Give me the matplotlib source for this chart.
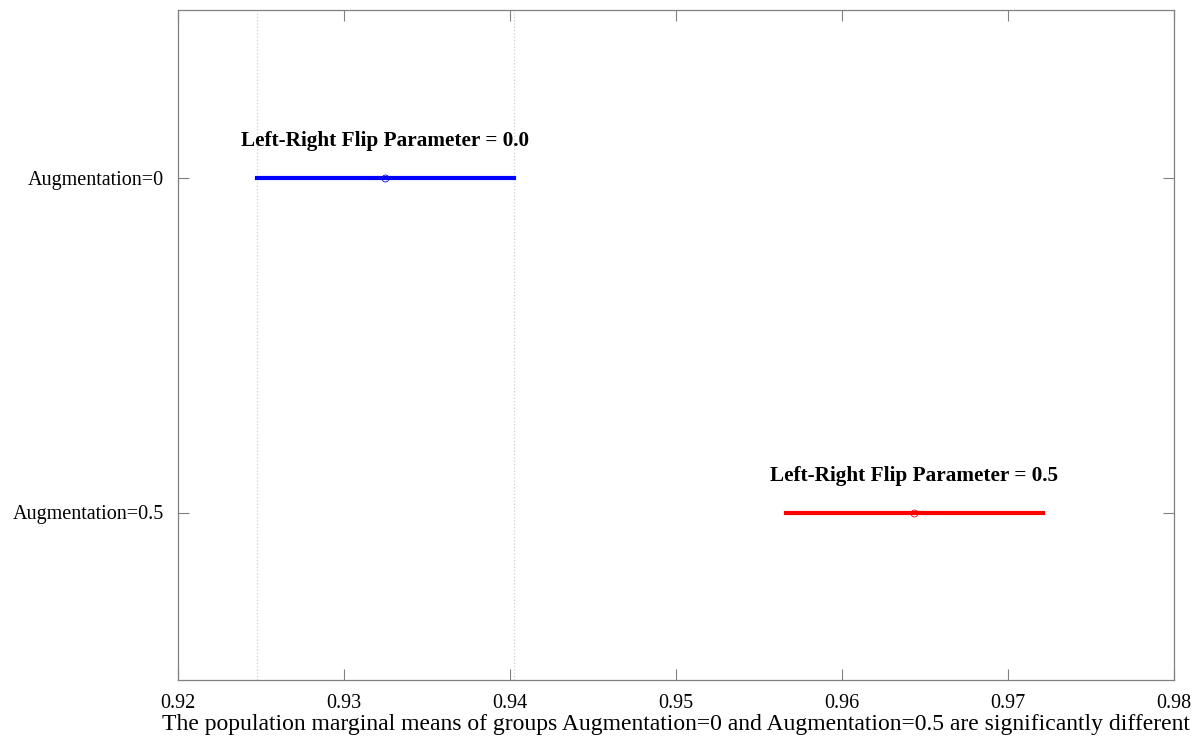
import numpy as np
import matplotlib
matplotlib.use("Agg")
import matplotlib.pyplot as plt

plt.rcParams['font.family'] = ['Liberation Serif', 'DejaVu Serif']

# group estimates and comparison intervals
groups = ["Augmentation=0", "Augmentation=0.5"]
means = [0.93247, 0.96434]
lower = [0.92474, 0.95663]
upper = [0.94024, 0.97213]
colors = ["#0000ff", "#ff0000"]
labels = ["Left-Right Flip Parameter = 0.0", "Left-Right Flip Parameter = 0.5"]
xticks = [0.92, 0.93, 0.94, 0.95, 0.96, 0.97, 0.98]

fig = plt.figure(figsize=(12.04, 7.42), dpi=100)
ax = fig.add_axes([178 / 1204, 1 - 680 / 742, (1174 - 178) / 1204, (680 - 10) / 742])

n = len(groups)
ypos = np.arange(n, 0, -1)

# reference lines at the first group's interval
for xv in (lower[0], upper[0]):
    ax.axvline(xv, color="#d0d0d0", linestyle=":", linewidth=0.9, zorder=0)

for i in range(n):
    ax.plot([lower[i], upper[i]], [ypos[i], ypos[i]], color=colors[i], linewidth=3, zorder=2)
    ax.plot(means[i], ypos[i], marker="o", markersize=5, markerfacecolor="none",
            markeredgecolor=colors[i], markeredgewidth=0.6, zorder=3)
    ax.text(means[i], ypos[i] + 0.08, labels[i], ha="center", va="bottom",
            fontsize=15.3, fontweight="bold")

ax.set_xlim(0.92, 0.98)
ax.set_ylim(0.5, n + 0.5)
ax.set_xticks(xticks)
ax.set_xticklabels([f"{t:.2f}" for t in xticks])
ax.set_yticks(ypos)
ax.set_yticklabels(groups)
ax.set_xlabel("The population marginal means of groups Augmentation=0 and Augmentation=0.5 are significantly different",
              fontsize=17, labelpad=1)

for s in ax.spines.values():
    s.set_color("#808080")
    s.set_linewidth(0.9)
ax.tick_params(direction="in", length=8, width=0.8, color="#808080", labelsize=14.5,
               top=True, right=True, pad=10)

fig.savefig("out.png", dpi=100)
